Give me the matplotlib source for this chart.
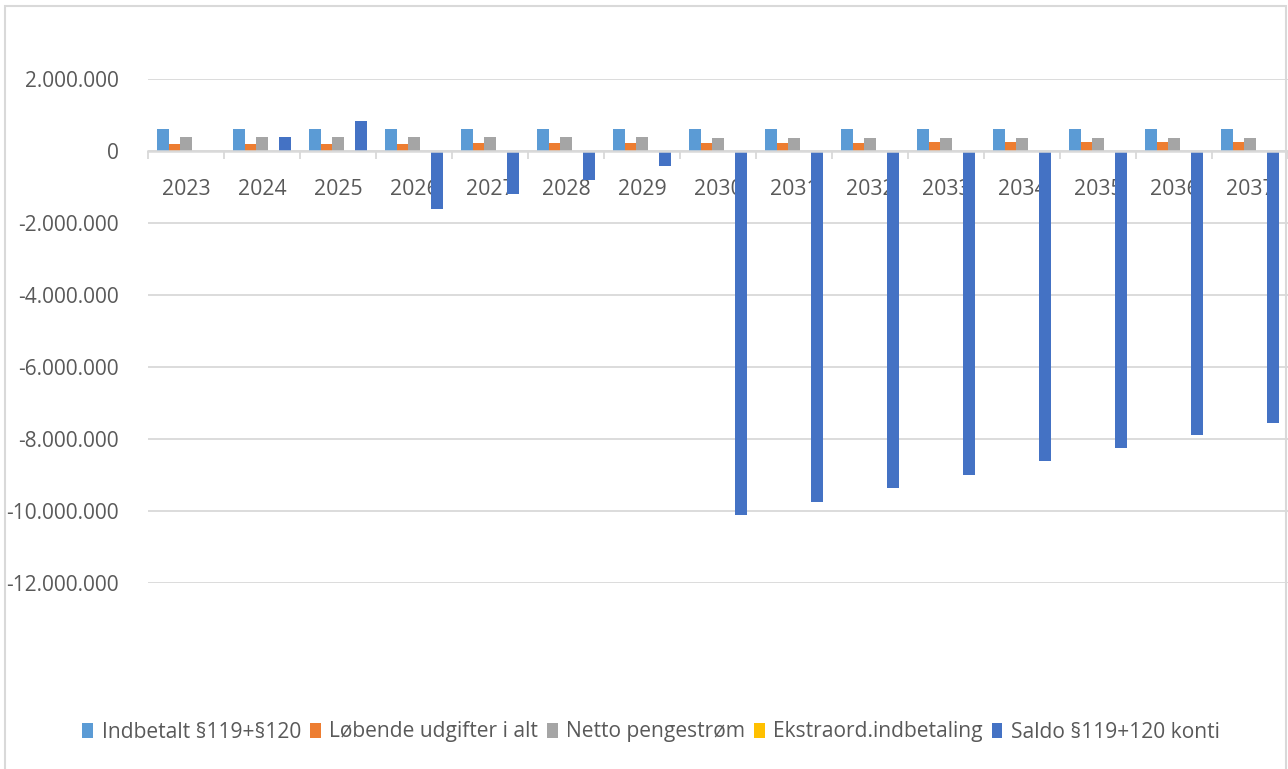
import numpy as np
import matplotlib.pyplot as plt
from matplotlib.patches import Rectangle
from matplotlib.ticker import FuncFormatter

years = [str(y) for y in range(2023, 2038)]
indbetalt = [600000, 600000, 600000, 600000, 600000, 600000, 600000, 600000,
             600000, 600000, 600000, 600000, 600000, 600000, 600000]
udgifter = [185000, 190000, 205000, 205000, 210000, 210000, 215000, 215000,
            220000, 225000, 240000, 245000, 245000, 250000, 250000]
netto = [400000, 400000, 395000, 395000, 390000, 390000, 385000, 355000,
         355000, 350000, 350000, 350000, 350000, 350000, 350000]
ekstra = [0, 0, 0, 0, 0, 0, 0, 0, 0, 0, 0, 0, 0, 0, 0]
saldo = [0, 390000, 830000, -1620000, -1200000, -800000, -420000, -10110000,
         -9750000, -9360000, -9000000, -8610000, -8250000, -7890000, -7550000]

series = [
    ("Indbetalt §119+§120", indbetalt, "#5B9BD5"),
    ("Løbende udgifter i alt", udgifter, "#ED7D31"),
    ("Netto pengestrøm", netto, "#A5A5A5"),
    ("Ekstraord.indbetaling", ekstra, "#FFC000"),
    ("Saldo §119+120 konti", saldo, "#4472C4"),
]

plt.rcParams['font.family'] = ['Open Sans', 'DejaVu Sans']
text_col = "#595959"
grid_col = "#D9D9D9"

fig = plt.figure(figsize=(12.88, 7.69), dpi=100)
ax = fig.add_axes([148 / 1288, 1 - 583 / 769, 1140 / 1288, 504 / 769])

x = np.arange(len(years))
w = 0.1515
for i, (name, vals, col) in enumerate(series):
    ax.bar(x + (i - 2) * w, vals, width=w, color=col, label=name, zorder=2)

ax.set_xlim(-0.5, len(years) - 0.5)
ax.set_ylim(-12000000, 2000000)
ax.set_yticks(np.arange(-12000000, 2000001, 2000000))
ax.yaxis.set_major_formatter(FuncFormatter(lambda v, p: f"{v:,.0f}".replace(",", ".")))
ax.tick_params(axis='y', length=0, pad=21, labelsize=15, labelcolor=text_col)
ax.grid(axis='y', color=grid_col, linewidth=1.3)
ax.set_axisbelow(True)

for s in ['top', 'right', 'left']:
    ax.spines[s].set_visible(False)
ax.spines['bottom'].set_position(('data', 0))
ax.spines['bottom'].set_color(grid_col)
ax.spines['bottom'].set_linewidth(1.8)

# category boundaries get tick marks, labels sit at the centres
ax.set_xticks(np.arange(-0.5, len(years), 1.0))
ax.set_xticklabels([])
ax.set_xticks(x, minor=True)
ax.set_xticklabels(years, minor=True)
ax.tick_params(axis='x', which='major', length=6, width=1.3, color=grid_col, direction='out')
ax.tick_params(axis='x', which='minor', length=0, pad=20, labelsize=15.3, labelcolor=text_col)

leg = fig.legend(loc='center', bbox_to_anchor=(651 / 1288, 1 - 732 / 769), ncol=5,
                 frameon=False, fontsize=15.1, handlelength=0.52, handleheight=0.72,
                 handletextpad=0.4, columnspacing=0.42, labelcolor=text_col)

fig.add_artist(Rectangle((4.5 / 1288, -0.02), 1281.5 / 1288, 1 - 5.5 / 769 + 0.02,
                         transform=fig.transFigure, fill=False,
                         edgecolor=grid_col, linewidth=1.5))

fig.savefig("out.png", dpi=100)
